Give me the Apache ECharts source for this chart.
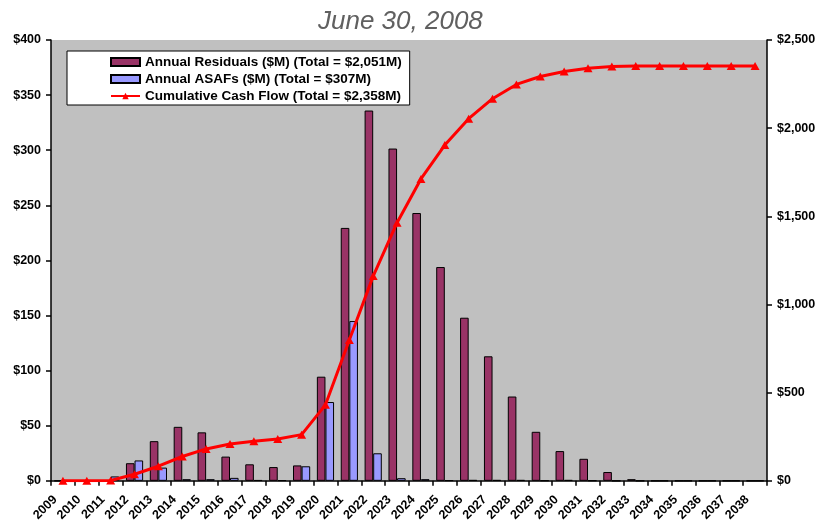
<!DOCTYPE html>
<html>
<head>
<meta charset="utf-8">
<script src="https://cdn.jsdelivr.net/npm/echarts@6/dist/echarts.min.js"></script>
<style>
html,body{margin:0;padding:0;background:#fff;}
#chart{width:823px;height:524px;}
</style>
</head>
<body>
<div id="chart"></div>
<script>
const years = ['2009','2010','2011','2012','2013','2014','2015','2016','2017','2018','2019','2020','2021','2022','2023','2024','2025','2026','2027','2028','2029','2030','2031','2032','2033','2034','2035','2036','2037','2038'];
const residuals = [0,0,0,16,36,49,44,22,15,12.5,14,94.5,229.5,336,301.5,243,194,148,113,76.5,44.5,27,20,8,1.5,0,0,0,0,0];
const asafs = [0,0,4,18.5,12,1.5,1.5,2.7,0.7,0.5,13.2,71.5,145,25,2.4,1.5,0.5,0.8,0.8,0.8,0.3,0.8,0.3,0,0,0,0,0,0,0];
const cumulative = [0,0,2,37.5,83,138,181,209,224,237,262,431,799,1161,1464,1712,1904,2054,2167,2248,2293,2321,2340,2350,2352,2352,2352,2352,2352,2352];
const leftTicks = [0,50,100,150,200,250,300,350,400];
const rightTicks = [0,500,1000,1500,2000,2500];

const font = 'Liberation Sans, Arial, Helvetica, sans-serif';
const chart = echarts.init(document.getElementById('chart'), null, {renderer:'canvas'});
const fmt = v => '$' + v.toLocaleString('en-US');
chart.setOption({
  animation:false,
  backgroundColor:'#ffffff',
  title:{
    text:'June 30, 2008',
    left:313, top:4,
    textStyle:{fontFamily:font, fontStyle:'italic', fontWeight:'normal', fontSize:26, color:'#606060'}
  },
  grid:{left:51, right:56, top:40, bottom:40, show:true, backgroundColor:'#C0C0C0', borderWidth:0},
  legend:{
    orient:'vertical', left:67, top:51,
    padding:[4,8,2,43],
    backgroundColor:'#ffffff', borderColor:'#000000', borderWidth:1,
    itemWidth:29, itemHeight:8, itemGap:3,
    textStyle:{fontFamily:font, fontWeight:'bold', fontSize:13.5, color:'#000'},
    data:[
      {name:'Annual Residuals ($M) (Total = $2,051M)', icon:'rect'},
      {name:'Annual ASAFs ($M) (Total = $307M)', icon:'rect'},
      {name:'Cumulative Cash Flow (Total = $2,358M)'}
    ]
  },
  xAxis:{
    type:'category', data:years, boundaryGap:true,
    axisLine:{lineStyle:{color:'#000', width:1.5}},
    axisTick:{show:true, length:5, lineStyle:{color:'#000', width:1.5}},
    axisLabel:{
      rotate:45, interval:0, margin:9,
      fontFamily:font, fontWeight:'bold', fontSize:12.5, color:'#000',
      padding:[0,11,0,0]
    },
    splitLine:{show:false}
  },
  yAxis:[
    {
      type:'value', min:0, max:400, interval:50, position:'left',
      axisLine:{show:true, lineStyle:{color:'#000', width:1.5}},
      axisTick:{show:true, length:5, lineStyle:{color:'#000', width:1.5}},
      axisLabel:{margin:10, fontFamily:font, fontWeight:'bold', fontSize:12.5, color:'#000', formatter:fmt},
      splitLine:{show:false}
    },
    {
      type:'value', min:0, max:2500, interval:500, position:'right',
      axisLine:{show:true, lineStyle:{color:'#000', width:1.5}},
      axisTick:{show:true, length:5, lineStyle:{color:'#000', width:1.5}},
      axisLabel:{margin:10, fontFamily:font, fontWeight:'bold', fontSize:12.5, color:'#000', formatter:fmt},
      splitLine:{show:false}
    }
  ],
  series:[
    {
      name:'Annual Residuals ($M) (Total = $2,051M)', type:'bar', yAxisIndex:0,
      data:residuals, barGap:'0%', barCategoryGap:'28%',
      itemStyle:{color:'#993366', borderColor:'#000', borderWidth:1}
    },
    {
      name:'Annual ASAFs ($M) (Total = $307M)', type:'bar', yAxisIndex:0,
      data:asafs, barGap:'0%', barCategoryGap:'28%',
      itemStyle:{color:'#9999FF', borderColor:'#000', borderWidth:1}
    },
    {
      name:'Cumulative Cash Flow (Total = $2,358M)', type:'line', yAxisIndex:1,
      data:cumulative, symbol:'triangle', symbolSize:[9,8], showSymbol:true,
      lineStyle:{color:'#FF0000', width:3},
      itemStyle:{color:'#FF0000'},
      z:5
    }
  ]
});
</script>
</body>
</html>
